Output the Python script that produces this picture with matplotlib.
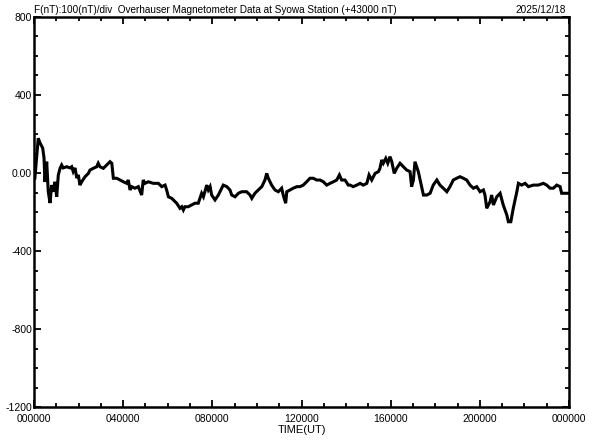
import matplotlib
matplotlib.use("Agg")
import matplotlib.pyplot as plt
from matplotlib.ticker import MultipleLocator, FixedLocator

# time in hours (UT) and field deviation in nT (relative to 43000 nT)
hours = [0.04, 0.19, 0.27, 0.39, 0.45, 0.49, 0.57, 0.64, 0.72, 0.79, 0.87, 0.94,
         1.02, 1.09, 1.17, 1.24, 1.31, 1.47, 1.62, 1.69, 1.76, 1.84, 1.92, 1.99,
         2.06, 2.14, 2.29, 2.44, 2.51, 2.66, 2.81, 2.88, 2.96, 3.11, 3.26, 3.41,
         3.49, 3.56, 3.71, 3.86, 4.01, 4.16, 4.23, 4.31, 4.38, 4.53, 4.68, 4.83,
         4.90, 4.98, 5.13, 5.35, 5.58, 5.73, 5.88, 5.95, 6.03, 6.18, 6.25, 6.40,
         6.55, 6.63, 6.70, 6.77, 6.92, 7.07, 7.22, 7.37, 7.52, 7.60, 7.75, 7.82,
         7.90, 7.97, 8.12, 8.27, 8.42, 8.49, 8.65, 8.79, 8.87, 9.02, 9.17, 9.32,
         9.54, 9.69, 9.77, 9.91, 10.06, 10.22, 10.36, 10.44, 10.51, 10.66, 10.81,
         10.96, 11.11, 11.18, 11.29, 11.34, 11.48, 11.63, 11.79, 11.93, 12.08,
         12.23, 12.38, 12.53, 12.68, 12.83, 12.98, 13.13, 13.28, 13.43, 13.58,
         13.70, 13.80, 13.95, 14.10, 14.18, 14.32, 14.48, 14.63, 14.77, 14.93,
         15.03, 15.15, 15.30, 15.45, 15.52, 15.60, 15.67, 15.78, 15.87, 15.97,
         16.05, 16.16, 16.27, 16.42, 16.57, 16.72, 16.87, 16.94, 17.02, 17.09,
         17.24, 17.39, 17.47, 17.62, 17.77, 17.91, 18.07, 18.21, 18.36, 18.52,
         18.66, 18.81, 18.96, 19.11, 19.26, 19.41, 19.56, 19.71, 19.86, 20.01,
         20.16, 20.23, 20.31, 20.46, 20.53, 20.61, 20.76, 20.91, 21.05, 21.21,
         21.28, 21.39, 21.50, 21.66, 21.73, 21.88, 22.03, 22.18, 22.40, 22.62,
         22.85, 23.00, 23.15, 23.30, 23.45, 23.60, 23.67, 23.82, 23.97]
values = [-26, 178, 154, 128, 77, -46, 58, -96, -154, -62, -96, -45,
          -122, -10, 24, 41, 26, 32, 26, 32, 7, 26, -26, -10,
          -62, -45, -19, -2, 15, 24, 32, 50, 32, 24, 41, 58,
          50, -27, -27, -36, -45, -53, -36, -87, -70, -78, -70, -113,
          -36, -53, -45, -53, -53, -70, -62, -87, -122, -130, -138, -155,
          -181, -173, -190, -173, -173, -164, -155, -155, -104, -122, -62, -87,
          -70, -113, -138, -113, -78, -62, -70, -87, -113, -122, -104, -96,
          -96, -113, -130, -104, -87, -70, -36, -2, -27, -62, -87,
          -96, -78, -113, -155, -96, -87, -78, -70, -70, -62,
          -45, -27, -27, -36, -36, -45, -62, -53, -45, -36,
          -10, -36, -36, -62, -62, -70, -62, -53, -62, -53,
          -10, -36, -2, 7, 24, 67, 50, 75, 50, 84,
          58, -2, 24, 50, 32, 15, 7, -70, -36, 58,
          7, -70, -113, -113, -104, -62, -36, -62, -78, -96,
          -70, -36, -27, -19, -27, -36, -62, -78, -70, -96,
          -87, -113, -181, -147, -113, -164, -122, -104, -164, -215,
          -250, -250, -181, -96, -53, -62, -53, -70, -62, -62,
          -53, -62, -78, -78, -62, -70, -104, -104, -104]

y_ticks = [-1200, -800, -400, 0, 400, 800]
y_labels = ["-1200", "-800", "-400", "0.00", "400", "800"]
x_ticks = [0, 4, 8, 12, 16, 20, 24]
x_labels = ["000000", "040000", "080000", "120000", "160000", "200000", "000000"]

title_left = "F(nT):100(nT)/div  Overhauser Magnetometer Data at Syowa Station (+43000 nT)"
title_right = "2025/12/18"

plt.rcParams['font.family'] = ['Liberation Sans', 'DejaVu Sans']

fig = plt.figure(figsize=(5.92, 4.40), dpi=100)
ax = fig.add_axes([34/592, 1 - 407/440, (569 - 34)/592, (407 - 17)/440])

ax.plot(hours, values, color='black', lw=2.2, solid_joinstyle='miter')

ax.set_xlim(0, 24)
ax.set_ylim(-1200, 800)

ax.xaxis.set_major_locator(FixedLocator(x_ticks))
ax.set_xticklabels(x_labels)
ax.xaxis.set_minor_locator(MultipleLocator(1))
ax.yaxis.set_major_locator(FixedLocator(y_ticks))
ax.set_yticklabels(y_labels)
ax.yaxis.set_minor_locator(MultipleLocator(100))

ax.tick_params(which='both', direction='in', top=True, right=True,
               width=1.3, colors='black', labelsize=7.5)
ax.tick_params(axis='y', which='both', pad=1.5)
ax.tick_params(axis='x', which='both', pad=5)
ax.tick_params(which='major', length=5)
ax.tick_params(which='minor', length=3)

for s in ax.spines.values():
    s.set_linewidth(1.8)

ax.set_xlabel("TIME(UT)", fontsize=8, labelpad=1)

fig.text(34/592, 1 - 13/440, title_left, fontsize=7.2, ha='left', va='baseline')
fig.text(566/592, 1 - 13/440, title_right, fontsize=7.2, ha='right', va='baseline')

fig.savefig("out.png", dpi=100)
